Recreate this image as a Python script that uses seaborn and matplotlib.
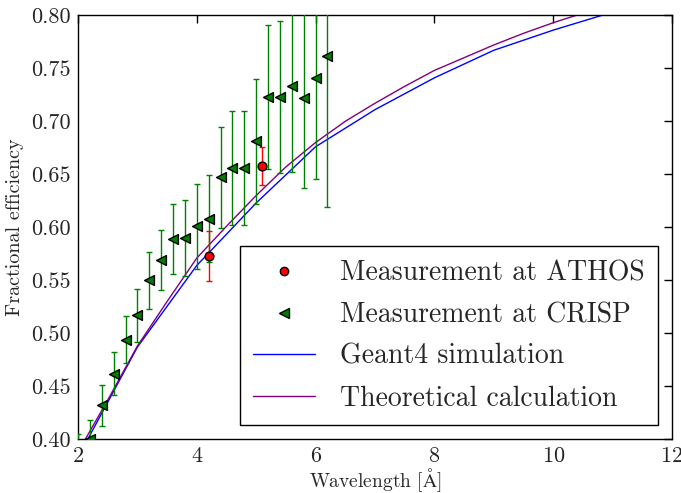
import numpy as np
import pandas as pd
import matplotlib
matplotlib.use("Agg")
import matplotlib.pyplot as plt
from matplotlib.lines import Line2D
import seaborn as sns

# ---- data ----
athos_x = [4.2, 5.1]
athos_y = [0.573, 0.658]
athos_err = [0.0235, 0.018]

crisp_x = [2.0, 2.2, 2.4, 2.6, 2.8, 3.0, 3.2, 3.4, 3.6, 3.8, 4.0,
           4.2, 4.4, 4.6, 4.8, 5.0, 5.2, 5.4, 5.6, 5.8, 6.0, 6.2]
crisp_y = [0.388, 0.400, 0.432, 0.462, 0.494, 0.517, 0.550, 0.569, 0.589, 0.590, 0.601,
           0.608, 0.647, 0.656, 0.656, 0.681, 0.723, 0.723, 0.733, 0.722, 0.741, 0.762]
crisp_err = [0.017, 0.018, 0.019, 0.020, 0.022, 0.025, 0.027, 0.028, 0.033, 0.036, 0.040,
             0.041, 0.048, 0.054, 0.054, 0.059, 0.068, 0.072, 0.081, 0.085, 0.095, 0.143]

geant_x = [2, 3, 4, 5, 6, 7, 8, 9, 10, 11, 12]
geant_y = [0.383, 0.487, 0.564, 0.623, 0.676, 0.711, 0.741, 0.767, 0.786, 0.803, 0.818]

theory_x = [2.0, 2.5, 3.0, 3.5, 4.0, 4.5, 5.0, 5.5, 6.0, 6.5, 7.0, 7.5, 8.0,
            8.5, 9.0, 9.5, 10.0, 10.5, 11.0, 11.5, 12.0]
theory_y = [0.388, 0.437, 0.488, 0.530, 0.571, 0.601, 0.630, 0.657, 0.680, 0.700, 0.717,
            0.733, 0.748, 0.760, 0.772, 0.783, 0.793, 0.802, 0.810, 0.818, 0.826]

labels = ["Measurement at ATHOS", "Measurement at CRISP",
          "Geant4 simulation", "Theoretical calculation"]

yticks = [0.40, 0.45, 0.50, 0.55, 0.60, 0.65, 0.70, 0.75, 0.80]
xticks = [2, 4, 6, 8, 10, 12]

# ---- style ----
sns.set_style("white", {"xtick.direction": "in", "ytick.direction": "in",
                        "axes.edgecolor": "black"})
plt.rcParams["font.family"] = ["cmr10", "DejaVu Serif"]
plt.rcParams["mathtext.fontset"] = "cm"
plt.rcParams["axes.formatter.use_mathtext"] = True
plt.rcParams["axes.unicode_minus"] = False

fig = plt.figure(figsize=(6.81, 4.93), dpi=100)
ax = fig.add_axes([78 / 681, 1 - 439.3 / 493, (672 - 78) / 681, (439.3 - 15.3) / 493])

geant_df = pd.DataFrame({"x": geant_x, "y": geant_y})
theory_df = pd.DataFrame({"x": theory_x, "y": theory_y})
sns.lineplot(data=geant_df, x="x", y="y", color="blue", lw=1.0, ax=ax, zorder=2)
sns.lineplot(data=theory_df, x="x", y="y", color="purple", lw=1.0, ax=ax, zorder=2)

ax.errorbar(athos_x, athos_y, yerr=athos_err, fmt="none", ecolor="red",
            elinewidth=1.0, capsize=2.5, capthick=1.0, zorder=3)
ax.errorbar(crisp_x, crisp_y, yerr=crisp_err, fmt="none", ecolor="green",
            elinewidth=1.0, capsize=2.5, capthick=1.0, zorder=3)

athos_df = pd.DataFrame({"x": athos_x, "y": athos_y})
crisp_df = pd.DataFrame({"x": crisp_x, "y": crisp_y})
sns.scatterplot(data=crisp_df, x="x", y="y", marker="<", s=50, color="green",
                edgecolor="black", linewidth=1.0, ax=ax, zorder=4)
sns.scatterplot(data=athos_df, x="x", y="y", marker="o", s=40, color="red",
                edgecolor="black", linewidth=1.0, ax=ax, zorder=5)

ax.set_xlim(2, 12)
ax.set_ylim(0.40, 0.80)
ax.set_xticks(xticks)
ax.set_yticks(yticks)
ax.set_yticklabels([f"{v:.2f}" for v in yticks])
ax.tick_params(which="both", direction="in", top=True, right=True,
               length=6, width=1, labelsize=16, color="black", pad=5)
for sp in ax.spines.values():
    sp.set_linewidth(1.0)
    sp.set_color("black")

ax.set_xlabel(r"Wavelength [$\mathrm{\AA}$]", fontsize=14, labelpad=0)
ax.set_ylabel("Fractional efficiency", fontsize=14.5, labelpad=5)

handles = [
    Line2D([], [], ls="none", marker="o", ms=6, mfc="red", mec="black", mew=1),
    Line2D([], [], ls="none", marker="<", ms=6.5, mfc="green", mec="black", mew=1),
    Line2D([], [], color="blue", lw=1),
    Line2D([], [], color="purple", lw=1),
]
leg = ax.legend(handles, labels, loc="lower right", fontsize=20, numpoints=1,
                frameon=True, fancybox=False, framealpha=1, edgecolor="black",
                handlelength=2.2, labelspacing=0.55, handletextpad=0.9,
                borderpad=0.5, borderaxespad=0.5)
leg.get_frame().set_linewidth(1.0)

fig.savefig("out.png", dpi=100)
